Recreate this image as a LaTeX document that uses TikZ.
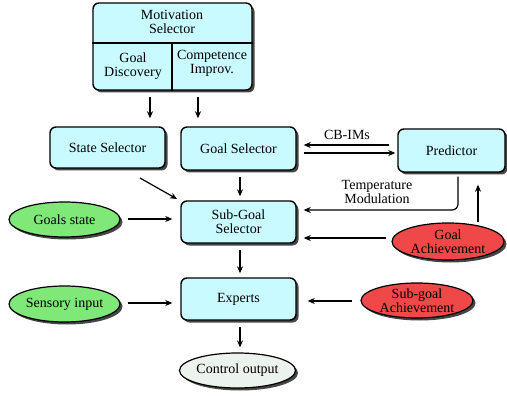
\documentclass[tikz,border=0pt]{standalone}
\usepackage{fontspec}
\setmainfont{Liberation Serif}
\usetikzlibrary{shadows,arrows.meta,shapes.geometric,calc}
\definecolor{boxc}{RGB}{200,250,255}
\definecolor{greenc}{RGB}{128,232,120}
\definecolor{redc}{RGB}{240,72,72}
\definecolor{greyc}{RGB}{236,242,236}
\begin{document}
\begin{tikzpicture}[x=1pt,y=-1pt,
  every node/.style={font=\fontsize{14}{14}\selectfont, align=center, inner sep=1pt},
  shad/.style={drop shadow={shadow xshift=2.5pt,shadow yshift=-2.5pt,fill=black!85,opacity=0.85}},
  box/.style={draw=black, line width=1.4pt, fill=boxc, rounded corners=6pt, shad},
  oval/.style={ellipse, draw=black, line width=1.2pt, shad, inner sep=0pt},
  arr/.style={-{Stealth[length=7pt,width=6pt]}, line width=1.2pt}]
\useasboundingbox (0,0) rectangle (507,396);
% Motivation selector
\node[box, minimum width=159pt, minimum height=87pt] (mot) at (172.5,46.5) {};
\draw[line width=1.4pt] (mot.west |- 0,43) -- (mot.east |- 0,43);
\draw[line width=1.4pt] (172,43) -- (mot.south -| 172,0);
\node (mottxt) at (172,22) {Motivation\\Selector};
\node (gd) at (133,66) {Goal\\Discovery};
\node (ci) at (212,63) {Competence\\Improv.};
% boxes
\node[box, minimum width=115pt, minimum height=41pt] (ss) at (107.5,147.5) {State Selector};
\node[box, minimum width=115pt, minimum height=43pt] (gs) at (238.5,148.5) {Goal Selector};
\node[box, minimum width=107pt, minimum height=43pt] (pr) at (451.5,150.5) {Predictor};
\node[box, minimum width=115pt, minimum height=42pt] (sg) at (238.5,222) {Sub-Goal\\Selector};
\node[box, minimum width=115pt, minimum height=42pt] (ex) at (238.5,299) {Experts};
% ellipses
\node[oval, fill=greenc, minimum width=111pt, minimum height=35pt] (gst) at (64.5,219.5) {Goals state};
\node[oval, fill=greenc, minimum width=111pt, minimum height=36pt] (si) at (64.5,304) {Sensory input};
\node[oval, fill=redc, minimum width=112pt, minimum height=37pt] (ga) at (448,241.5) {Goal\\Achievement};
\node[oval, fill=redc, minimum width=112pt, minimum height=35pt] (sa) at (417,300.5) {Sub-goal\\Achievement};
\node[oval, fill=greyc, minimum width=111pt, minimum height=35pt] (co) at (237.5,370.5) {Control output};
% arrows from motivation selector
\coordinate (m1) at (150,97);
\coordinate (m2) at (198,97);
\draw[arr] (m1) -- ($(m1 |- ss.north)+(0,-8)$);
\draw[arr] (m2) -- ($(m2 |- gs.north)+(0,-8)$);
% State selector to sub-goal
\draw[arr] (140,178) -- (177,199);
% vertical chain
\draw[arr] ($(gs.south)+(1.5,6)$) -- ($(sg.north)+(1.5,-4)$);
\draw[arr] ($(sg.south)+(1.5,6)$) -- ($(ex.north)+(1.5,-4)$);
\draw[arr] ($(ex.south)+(1.5,6)$) -- ($(co.north)+(2.5,-5)$);
% CB-IMs
\draw[arr] ($(pr.west |- 0,145)+(-8,0)$) -- ($(gs.east |- 0,145)+(7,0)$);
\draw[arr] ($(gs.east |- 0,153)+(7,0)$) -- ($(pr.west |- 0,153)+(-2,0)$);
\node (cb) at (347,135) {CB-IMs};
% Temperature modulation
\draw[arr, rounded corners=6pt] ($(pr.south -| 458,0)+(0,4)$) -- (458,210) -- ($(sg.east |- 0,210)+(7,0)$);
\node (tm) at (377,192) {Temperature\\Modulation};
% Goal achievement
\draw[arr] (ga.north -| 478,0) -- ($(pr.south -| 478,0)+(0,12)$);
\draw[arr] ($(ga.west |- 0,238)+(-5,0)$) -- ($(sg.east |- 0,238)+(7,0)$);
% inputs
\draw[arr] ($(gst.east |- 0,219)+(7,0)$) -- ($(sg.west |- 0,219)+(-8,0)$);
\draw[arr] ($(si.east |- 0,303)+(7,0)$) -- ($(ex.west |- 0,303)+(-8,0)$);
\draw[arr] ($(sa.west |- 0,301)+(-8,0)$) -- ($(ex.east |- 0,301)+(11,0)$);
\end{tikzpicture}
\end{document}
